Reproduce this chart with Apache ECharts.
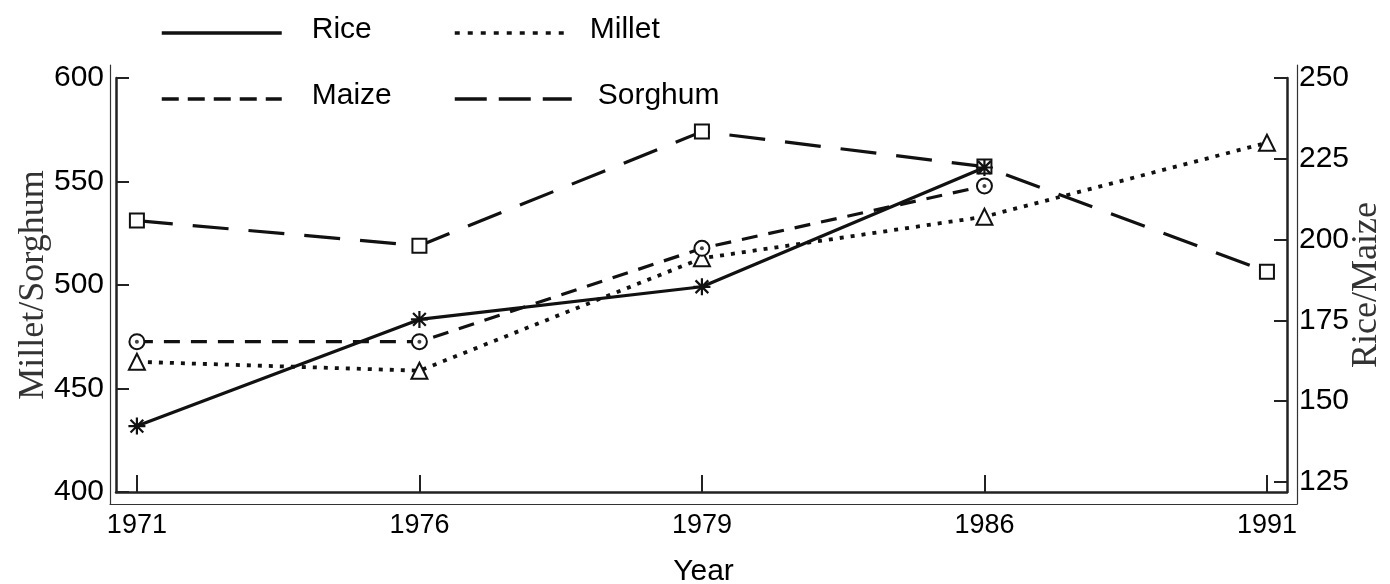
<!DOCTYPE html>
<html><head><meta charset="utf-8">
<script src="https://cdn.jsdelivr.net/npm/echarts@6/dist/echarts.min.js"></script>
<style>html,body{margin:0;padding:0;background:#fff}#c{width:1390px;height:584px}</style>
</head><body><div id="c"></div>
<script>
const years = ['1971', '1976', '1979', '1986', '1991'];
const rice = [142.3, 175.3, 185.4, 222.3];
const maize = [168.4, 168.4, 197.3, 216.6];
const millet = [462.9, 458.6, 512.9, 533.0, 568.7];
const sorghum = [531.1, 519.0, 574.1, 557.2, 506.4];
const rightTicks = [125, 150, 175, 200, 225, 250];

const idx = years.map((_, i) => i);
const pairs = arr => arr.map((v, i) => [i, v]);
const SANS = "'Liberation Sans', Arial, sans-serif";
const SERIF = "'Liberation Serif', 'Times New Roman', serif";
const INK = '#111';
const FRAME = '#222';

const chart = echarts.init(document.getElementById('c'), null, {renderer: 'canvas'});

function legendItem(name, left, top, width, gap, lineType) {
  return {
    data: [{name: name, lineStyle: {type: lineType, width: 3.5, cap: 'butt'}}],
    orient: 'horizontal', left: left, top: top, padding: 0,
    itemWidth: width, itemHeight: 20, selectedMode: false,
    itemStyle: {opacity: 0},
    formatter: n => '{t|' + n + '}',
    textStyle: {rich: {t: {fontSize: 30, fontFamily: SANS, color: '#000', padding: [0, 0, 6, gap]}}}
  };
}

const option = {
  animation: false,
  backgroundColor: '#fff',
  grid: [
    {left: 116, right: 103, top: 78, bottom: 92, outerBoundsMode: 'none', containLabel: false},
    {left: 110, right: 93, top: 65, bottom: 80, outerBoundsMode: 'none', containLabel: false}
  ],
  legend: [
    legendItem('Rice', 160, 15, 120, 25, 'solid'),
    legendItem('Millet', 453, 15, 117, 13, [5, 8]),
    legendItem('Maize', 160, 81, 120, 25, [17, 9]),
    legendItem('Sorghum', 453, 81, 117, 21, [32, 12])
  ],
  xAxis: [
    {type: 'value', gridIndex: 0, min: -0.074, max: 4.071,
     axisLine: {show: true, onZero: false, lineStyle: {color: FRAME, width: 2.5}},
     axisTick: {show: true, inside: true, length: 17, customValues: idx, lineStyle: {color: FRAME, width: 2}},
     axisLabel: {customValues: idx, formatter: v => years[Math.round(v)], margin: 20, fontSize: 27, fontFamily: SANS, color: '#000'},
     splitLine: {show: false}},
    {type: 'value', gridIndex: 1, min: 0, max: 1,
     axisLine: {show: true, onZero: false, lineStyle: {color: '#333', width: 1.2}},
     axisTick: {show: false}, axisLabel: {show: false}, splitLine: {show: false},
     name: 'Year', nameLocation: 'middle', nameGap: 53, nameMoveOverlap: false,
     nameTextStyle: {fontSize: 30, fontFamily: SANS, color: '#000'}}
  ],
  yAxis: [
    {type: 'value', gridIndex: 0, position: 'left', min: 400, max: 600, interval: 50,
     axisLine: {show: true, onZero: false, lineStyle: {color: FRAME, width: 2.5}},
     axisTick: {show: true, inside: true, length: 13, lineStyle: {color: FRAME, width: 2}},
     axisLabel: {margin: 12, fontSize: 30, fontFamily: SANS, color: '#000'},
     splitLine: {show: false},
     name: 'Millet/Sorghum', nameLocation: 'middle', nameGap: 64, nameMoveOverlap: false,
     nameTextStyle: {fontSize: 36, fontFamily: SERIF, color: '#333'}},
    {type: 'value', gridIndex: 0, position: 'right', min: 121.9, max: 250,
     axisLine: {show: true, onZero: false, lineStyle: {color: FRAME, width: 2.5}},
     axisTick: {show: true, inside: true, length: 13, customValues: rightTicks, lineStyle: {color: FRAME, width: 2}},
     axisLabel: {customValues: rightTicks, margin: 12, fontSize: 30, fontFamily: SANS, color: '#000'},
     splitLine: {show: false},
     name: 'Rice/Maize', nameLocation: 'middle', nameGap: 62, nameMoveOverlap: false,
     nameTextStyle: {fontSize: 36, fontFamily: SERIF, color: '#333'}},
    {type: 'value', gridIndex: 1, position: 'left', min: 0, max: 1,
     axisLine: {show: true, onZero: false, lineStyle: {color: '#333', width: 1.2}},
     axisTick: {show: false}, axisLabel: {show: false}, splitLine: {show: false}},
    {type: 'value', gridIndex: 1, position: 'right', min: 0, max: 1,
     axisLine: {show: true, onZero: false, lineStyle: {color: '#333', width: 1.2}},
     axisTick: {show: false}, axisLabel: {show: false}, splitLine: {show: false}}
  ],
  series: [
    {name: 'Sorghum', type: 'line', xAxisIndex: 0, yAxisIndex: 0, data: pairs(sorghum),
     symbol: 'emptyRect', symbolSize: 14, showSymbol: true, color: INK,
     itemStyle: {color: INK, borderColor: INK, borderWidth: 2},
     lineStyle: {color: INK, width: 3.2, type: [36, 20], cap: 'butt'}},
    {name: 'Millet', type: 'line', xAxisIndex: 0, yAxisIndex: 0, data: pairs(millet),
     symbol: 'emptyTriangle', symbolSize: 16, showSymbol: true, color: INK,
     itemStyle: {color: INK, borderColor: INK, borderWidth: 2},
     lineStyle: {color: INK, width: 3.8, type: [4, 7], cap: 'butt'}},
    {name: 'Maize', type: 'line', xAxisIndex: 0, yAxisIndex: 1, data: pairs(maize),
     symbol: 'emptyCircle', symbolSize: 15, showSymbol: true, color: INK,
     itemStyle: {color: INK, borderColor: INK, borderWidth: 2},
     lineStyle: {color: INK, width: 3.2, type: [16, 11], cap: 'butt'}},
    {name: 'MaizeDot', type: 'scatter', xAxisIndex: 0, yAxisIndex: 1, data: pairs(maize),
     symbol: 'circle', symbolSize: 4, itemStyle: {color: INK}, z: 3},
    {name: 'Rice', type: 'line', xAxisIndex: 0, yAxisIndex: 1, data: pairs(rice),
     symbol: 'path://M0,-8L0,8M-8,0L8,0M-6,-6L6,6M-6,6L6,-6', symbolSize: 17, showSymbol: true, color: INK,
     itemStyle: {color: INK, borderColor: INK, borderWidth: 2.2},
     lineStyle: {color: INK, width: 3.2}, z: 4}
  ]
};
chart.setOption(option);
</script></body></html>
